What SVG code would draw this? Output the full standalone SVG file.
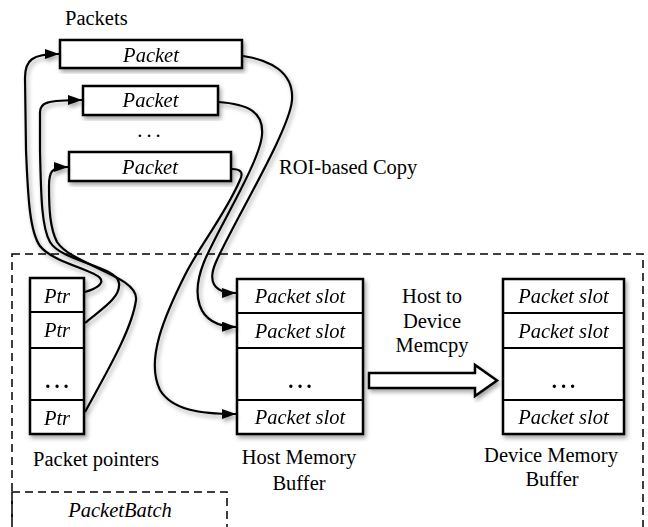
<svg xmlns="http://www.w3.org/2000/svg" width="648" height="527" viewBox="0 0 648 527" font-family="'Liberation Serif', 'Times New Roman', 'DejaVu Serif', serif">
<defs>
<style>
text{font-family:'Liberation Serif','Times New Roman','DejaVu Serif',serif;font-size:20.5px;fill:#000}
.c{text-anchor:middle}
.i{font-style:italic}
.d{font-weight:bold;letter-spacing:4px}
.box{fill:#fff;stroke:#000;stroke-width:2.5}
.sep{stroke:#000;stroke-width:2}
.dash{fill:none;stroke:#000;stroke-width:1.5;stroke-dasharray:8 5}
.con{fill:none;stroke:#000;stroke-width:2.2;marker-end:url(#ah)}
</style>
<marker id="ah" markerUnits="userSpaceOnUse" markerWidth="16" markerHeight="12" refX="14" refY="5" orient="auto">
<path d="M0,0 L14,5 L0,10 z" fill="#000"/>
</marker>
<filter id="sh" x="-20%" y="-20%" width="140%" height="140%">
<feDropShadow dx="2" dy="3" stdDeviation="2" flood-color="#000" flood-opacity="0.35"/>
</filter>
</defs>
<rect width="648" height="527" fill="#fff"/>

<g id="batch">
<rect class="dash" x="12" y="254" width="631" height="300"/>
<rect class="dash" x="12" y="492" width="215" height="60"/>
<text class="c i" x="120" y="517">PacketBatch</text>
</g>

<text x="65" y="25">Packets</text>
<text x="279" y="174">ROI-based Copy</text>

<g id="packet1" filter="url(#sh)">
<rect class="box" x="60" y="40" width="182" height="28"/>
<text class="c i" x="151" y="62">Packet</text>
</g>
<g id="packet2" filter="url(#sh)">
<rect class="box" x="83" y="86" width="135" height="29"/>
<text class="c i" x="150.5" y="107">Packet</text>
</g>
<text class="c" x="151" y="137" style="letter-spacing:4px">...</text>
<g id="packet3" filter="url(#sh)">
<rect class="box" x="69" y="152" width="162" height="29"/>
<text class="c i" x="150" y="174">Packet</text>
</g>

<g id="ptrs" filter="url(#sh)">
<rect class="box" x="30" y="278" width="54" height="156"/>
<line class="sep" x1="30" y1="312" x2="84" y2="312"/>
<line class="sep" x1="30" y1="348" x2="84" y2="348"/>
<line class="sep" x1="30" y1="400" x2="84" y2="400"/>
<text class="c i" x="57" y="303">Ptr</text>
<text class="c i" x="57" y="337">Ptr</text>
<text class="c d" x="59" y="388">...</text>
<text class="c i" x="57" y="425">Ptr</text>
</g>
<text class="c" x="96" y="466">Packet pointers</text>

<g id="host" filter="url(#sh)">
<rect class="box" x="237" y="279" width="126" height="155"/>
<line class="sep" x1="237" y1="313" x2="363" y2="313"/>
<line class="sep" x1="237" y1="348" x2="363" y2="348"/>
<line class="sep" x1="237" y1="400" x2="363" y2="400"/>
<text class="c i" x="300" y="303">Packet slot</text>
<text class="c i" x="300" y="338">Packet slot</text>
<text class="c d" x="302" y="388">...</text>
<text class="c i" x="300" y="424">Packet slot</text>
</g>
<text class="c" x="299" y="464">Host Memory</text>
<text class="c" x="299" y="490">Buffer</text>

<g id="copyarrow" filter="url(#sh)">
<polygon points="369,373 475,373 475,365 497,380.5 475,396 475,388 369,388" fill="#fff" stroke="#000" stroke-width="2.5" stroke-linejoin="miter"/>
</g>
<text class="c" x="432" y="303">Host to</text>
<text class="c" x="432" y="328">Device</text>
<text class="c" x="432" y="352">Memcpy</text>

<g id="device" filter="url(#sh)">
<rect class="box" x="503" y="279" width="121" height="155"/>
<line class="sep" x1="503" y1="313" x2="624" y2="313"/>
<line class="sep" x1="503" y1="348" x2="624" y2="348"/>
<line class="sep" x1="503" y1="400" x2="624" y2="400"/>
<text class="c i" x="563.5" y="303">Packet slot</text>
<text class="c i" x="563.5" y="338">Packet slot</text>
<text class="c d" x="565.5" y="388">...</text>
<text class="c i" x="563.5" y="424">Packet slot</text>
</g>
<text class="c" x="551" y="462">Device Memory</text>
<text class="c" x="552" y="486">Buffer</text>

<g id="connectors" filter="url(#sh)">
<path class="con" d="M85,292 C95,289 105,284 100,278 C94,270 52,262 40,246 C30,232 28,200 26,150 L25,78 C25,60 32,54 59,54"/>
<path class="con" d="M85,323 C100,310 121,298 119,283 C117,266 62,262 50,242 C42,228 41,200 40,150 L40,112 C40,103 46,100 82,100"/>
<path class="con" d="M85,412 C105,375 132,330 136,300 C139,276 72,265 57,242 C50,228 49,210 49,186 C49,172 51,167 68,167"/>
<path class="con" d="M243,56 C270,60 294,72 292,100 C290,130 232,225 216,262 C208,280 212,293 236,293"/>
<path class="con" d="M218,102 C248,104 264,112 262,135 C260,162 216,232 204,262 C192,292 194,326 236,327"/>
<path class="con" d="M232,169 C240,169 244,172 240,180 C225,215 200,245 185,275 C165,315 145,360 160,390 C172,410 200,414 236,414"/>
</g>
</svg>
